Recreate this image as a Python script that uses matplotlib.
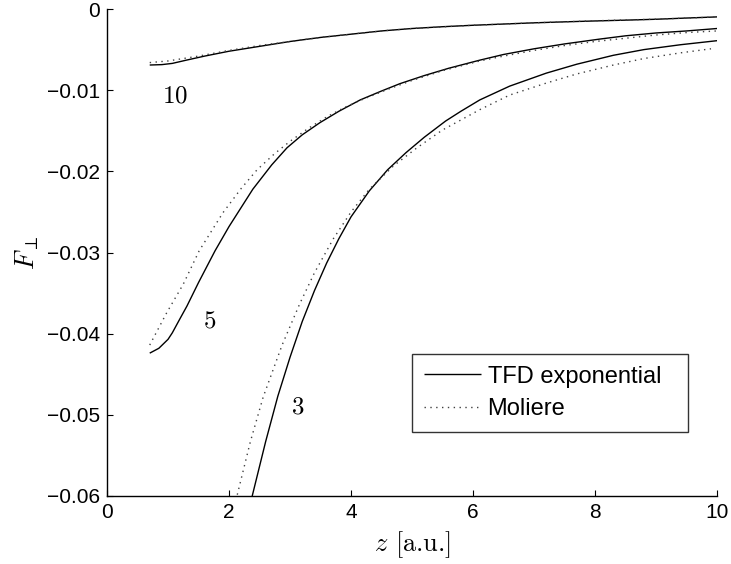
import numpy as np
import matplotlib
matplotlib.use("Agg")
import matplotlib.pyplot as plt

plt.rcParams['font.family'] = ['Liberation Sans', 'DejaVu Sans']
plt.rcParams['mathtext.fontset'] = 'cm'

# Transverse force F_perp vs distance z for Z = 10, 5, 3
z10_tfd = [0.70, 0.90, 1.07, 1.30, 1.60, 2.00, 2.50, 3.00, 3.50, 4.00, 4.50, 5.00, 5.50,
           6.00, 6.50, 7.00, 7.50, 8.00, 8.50, 9.00, 9.50, 10.00]
f10_tfd = [-0.0069, -0.00685, -0.0067, -0.0063, -0.0058, -0.0052, -0.0046, -0.0040, -0.0035,
           -0.0031, -0.0027, -0.0024, -0.00218, -0.0020, -0.00185, -0.0017, -0.00158,
           -0.00147, -0.00137, -0.00126, -0.00111, -0.00097]
z10_mol = [0.70, 1.00, 1.50, 2.00, 2.50, 3.00, 3.50, 4.00, 4.50, 5.00, 6.00, 7.00, 8.00,
           9.00, 10.00]
f10_mol = [-0.0066, -0.0064, -0.0058, -0.0051, -0.0045, -0.0040, -0.0035, -0.0031, -0.0027,
           -0.0024, -0.0020, -0.0017, -0.00145, -0.00125, -0.00098]

z5_tfd = [0.70, 0.85, 1.00, 1.07, 1.20, 1.31, 1.50, 1.77, 2.00, 2.39, 2.70, 2.95, 3.20, 3.49,
          3.80, 4.15, 4.50, 4.80, 5.20, 5.60, 6.11, 6.50, 7.00, 7.50, 8.08, 8.50, 9.00, 9.50, 10.00]
f5_tfd = [-0.0424, -0.0418, -0.0407, -0.0399, -0.0381, -0.0366, -0.0337, -0.0298, -0.0268,
          -0.0222, -0.0192, -0.0171, -0.0155, -0.0140, -0.0126, -0.0112, -0.0101, -0.0092,
          -0.0082, -0.0073, -0.0063, -0.0056, -0.0049, -0.0043, -0.0037, -0.0033, -0.00295,
          -0.0027, -0.0024]
z5_mol = [0.70, 0.98, 1.25, 1.51, 1.90, 2.20, 2.46, 2.75, 3.00, 3.30, 3.60, 3.90, 4.20, 4.60,
          5.00, 5.50, 6.11, 6.50, 7.00, 7.50, 8.00, 8.50, 9.00, 9.50, 10.00]
f5_mol = [-0.0414, -0.0374, -0.0339, -0.0298, -0.0251, -0.0221, -0.0198, -0.0178, -0.0163,
          -0.0147, -0.0133, -0.0121, -0.0111, -0.0099, -0.0088, -0.0076, -0.0064, -0.0058,
          -0.0051, -0.0045, -0.0040, -0.0036, -0.0032, -0.0029, -0.0027]

z3_tfd = [2.20, 2.38, 2.60, 2.80, 3.00, 3.20, 3.40, 3.60, 3.80, 4.00, 4.30, 4.60, 4.90, 5.20,
          5.55, 5.80, 6.11, 6.60, 7.20, 7.70, 8.30, 8.80, 9.40, 10.00]
f3_tfd = [-0.0665, -0.0600, -0.0533, -0.0477, -0.0429, -0.0385, -0.0347, -0.0313, -0.0283,
          -0.0256, -0.0224, -0.0198, -0.0177, -0.0158, -0.0138, -0.0126, -0.0112, -0.0095,
          -0.0079, -0.0068, -0.0057, -0.0050, -0.0044, -0.0039]
z3_mol = [2.00, 2.13, 2.35, 2.56, 2.87, 3.16, 3.40, 3.71, 4.00, 4.30, 4.70, 5.08, 5.50, 6.11,
          6.60, 7.21, 7.70, 8.30, 8.80, 9.40, 9.90]
f3_mol = [-0.0655, -0.0600, -0.0533, -0.0478, -0.0414, -0.0363, -0.0325, -0.0283, -0.0250,
          -0.0222, -0.0193, -0.0171, -0.0149, -0.0124, -0.0106, -0.0091, -0.0080, -0.0069,
          -0.0061, -0.0054, -0.0049]

curve_labels = ["10", "5", "3"]
label_pos = [(1.11, -0.0106), (1.69, -0.0384), (3.13, -0.0490)]

xticks = [0, 2, 4, 6, 8, 10]
yticks = [0, -0.01, -0.02, -0.03, -0.04, -0.05, -0.06]
ytick_labels = ["0", "\u22120.01", "\u22120.02", "\u22120.03", "\u22120.04", "\u22120.05", "\u22120.06"]

fig = plt.figure(figsize=(7.31, 5.64), dpi=100)
ax = fig.add_axes([0.1464, 0.1206, 0.8346, 0.8634])

solid = dict(color='black', lw=1.0, solid_capstyle='butt', solid_joinstyle='round')
dotted = dict(color='0.25', lw=1.0, linestyle=(0, (1, 3.2)))

ax.plot(z10_tfd, f10_tfd, label='TFD exponential', **solid)
ax.plot(z10_mol, f10_mol, label='Moliere', **dotted)
ax.plot(z5_tfd, f5_tfd, **solid)
ax.plot(z5_mol, f5_mol, **dotted)
ax.plot(z3_tfd, f3_tfd, **solid)
ax.plot(z3_mol, f3_mol, **dotted)

for txt, (x, y) in zip(curve_labels, label_pos):
    ax.text(x, y, '$' + txt + '$', fontsize=18, ha='center', va='center')

ax.set_xlim(0, 10)
ax.set_ylim(-0.06, 0)
ax.set_xticks(xticks)
ax.set_xticklabels([str(t) for t in xticks])
ax.set_yticks(yticks)
ax.set_yticklabels(ytick_labels)
ax.tick_params(direction='in', length=4, width=0.8, labelsize=15, pad=5,
               top=False, right=False)
for side in ('top', 'right'):
    ax.spines[side].set_visible(False)
for side in ('left', 'bottom'):
    ax.spines[side].set_linewidth(1.0)

ax.set_xlabel('$z$ [a.u.]', fontsize=19, family='cmr10', labelpad=5)
ax.set_ylabel(r'$F_{\perp}$', fontsize=19, labelpad=4)

leg = ax.legend(loc='lower left', bbox_to_anchor=(0.5, 0.131, 0.452, 0.16), mode='expand',
                fontsize=17, frameon=True, fancybox=False, handlelength=2.4,
                handletextpad=0.3, borderpad=0.5, labelspacing=0.45, borderaxespad=0)
leg.get_frame().set_edgecolor('black')
leg.get_frame().set_linewidth(1.0)

fig.savefig('out.png', dpi=100)
